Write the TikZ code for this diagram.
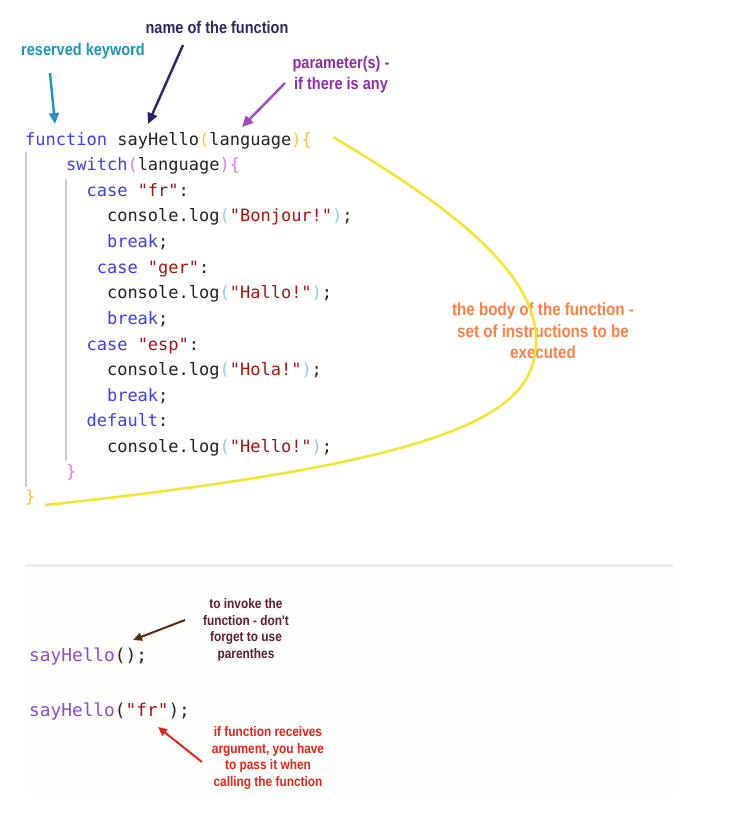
\documentclass[tikz,border=0pt]{standalone}
\usepackage{fontspec}
\newfontfamily\code{DejaVu Sans Mono}
\newfontfamily\lab[FakeStretch=0.86]{Liberation Sans}
\usetikzlibrary{arrows.meta}
\definecolor{kwc}{HTML}{3C3CF5}
\definecolor{strc}{HTML}{A31515}
\definecolor{codeblack}{HTML}{222222}
\definecolor{yparen}{HTML}{F5C542}
\definecolor{pparen}{HTML}{E07CE0}
\definecolor{bparen}{HTML}{8CCBF0}
\definecolor{callc}{HTML}{8A4FC7}
\definecolor{guidec}{HTML}{CCCCCC}
\definecolor{sepc}{HTML}{ECECEC}
\definecolor{tealc}{HTML}{1E96B8}
\definecolor{navyc}{HTML}{2B2565}
\definecolor{purpc}{HTML}{8B2FA8}
\definecolor{orangec}{HTML}{FF7F45}
\definecolor{maroonc}{HTML}{5A1E35}
\definecolor{brownc}{HTML}{5A2A12}
\definecolor{redc}{HTML}{E3261C}
\definecolor{curvec}{HTML}{F2E632}
\definecolor{lowbg}{HTML}{FEFEFD}
\newcommand{\kw}[1]{\textcolor{kwc}{#1}}
\newcommand{\strg}[1]{\textcolor{strc}{#1}}
\newcommand{\yp}[1]{\textcolor{yparen}{#1}}
\newcommand{\pp}[1]{\textcolor{pparen}{#1}}
\newcommand{\bp}[1]{\textcolor{bparen}{#1}}
\begin{document}
\begin{tikzpicture}[x=1pt,y=-1pt,
  codeline/.style={anchor=base west, inner sep=0pt, font=\code\fontsize{17}{20}\selectfont, text=codeblack},
  calline/.style={anchor=base west, inner sep=0pt, font=\code\fontsize{17.8}{20}\selectfont, text=codeblack},
  biglab/.style={inner sep=0pt, align=center, font=\lab\bfseries\fontsize{16.9}{21}\selectfont},
  bodylabst/.style={inner sep=0pt, align=center, font=\lab\bfseries\fontsize{17.6}{21.5}\selectfont},
  smalllab/.style={inner sep=0pt, align=center, font=\lab\bfseries\fontsize{13.8}{16.8}\selectfont},
  bigarr/.style={line width=2.4pt, -{Triangle[length=11pt,width=10pt]}},
  smallarr/.style={line width=2pt, -{Triangle[length=9pt,width=8pt]}},
  guide/.style={draw=guidec, line width=1.4pt}]
\useasboundingbox (0,0) rectangle (739,814);
% lower faint background and separator
\fill[lowbg] (25,567) rectangle (675,795);
\draw[sepc, line width=3pt] (25,565) -- (673,565);
% guides
\draw[guide] (26,152) -- (26,487);
\draw[guide] (66,179) -- (66,461);
% code lines
\def\cx#1{25+10.23*#1}
\node[codeline] (l1) at ({\cx{0}},145) {\kw{function} sayHello\yp{(}language\yp{)}\yp{\{}};
\node[codeline] (l2) at ({\cx{4}},170) {\kw{switch}\pp{(}language\pp{)}\pp{\{}};
\node[codeline] (l3) at ({\cx{6}},196) {\kw{case} \strg{"fr"}:};
\node[codeline] (l4) at ({\cx{8}},221) {console.log\bp{(}\strg{"Bonjour!"}\bp{)};};
\node[codeline] (l5) at ({\cx{8}},247) {\kw{break};};
\node[codeline] (l6) at ({\cx{7}},273) {\kw{case} \strg{"ger"}:};
\node[codeline] (l7) at ({\cx{8}},298) {console.log\bp{(}\strg{"Hallo!"}\bp{)};};
\node[codeline] (l8) at ({\cx{8}},324) {\kw{break};};
\node[codeline] (l9) at ({\cx{6}},350) {\kw{case} \strg{"esp"}:};
\node[codeline] (l10) at ({\cx{8}},375) {console.log\bp{(}\strg{"Hola!"}\bp{)};};
\node[codeline] (l11) at ({\cx{8}},401) {\kw{break};};
\node[codeline] (l12) at ({\cx{6}},426) {\kw{default}:};
\node[codeline] (l13) at ({\cx{8}},452) {console.log\bp{(}\strg{"Hello!"}\bp{)};};
\node[codeline] (l14) at ({\cx{4}},477) {\pp{\}}};
\node[codeline] (l15) at ({\cx{0}},502) {\yp{\}}};
% calls
\node[calline] (c1) at (29,661) {\textcolor{callc}{sayHello}();};
\node[calline] (c2) at (29,716) {\textcolor{callc}{sayHello}(\strg{"fr"});};
% labels
\node[biglab, text=tealc] (kwlab) at (83,51) {reserved keyword};
\node[biglab, text=navyc] (namelab) at (217,27) {name of the function};
\node[biglab, text=purpc] (paramlab) at (341,75) {parameter(s) -\\if there is any};
\node[bodylabst, text=orangec] (bodylab) at (543,331) {the body of the function -\\set of instructions to be\\executed};
\node[smalllab, text=maroonc] (invlab) at (246,630) {to invoke the\\function - don't\\forget to use\\parenthes};
\node[smalllab, text=redc] (arglab) at (268,758) {if function receives\\argument, you have\\to pass it when\\calling the function};
% arrows
\coordinate (kwA) at (50,73); \coordinate (kwB) at (55,124);
\coordinate (nmA) at (183,45); \coordinate (nmB) at (148,124);
\coordinate (pmA) at (285,83); \coordinate (pmB) at (242,127);
\coordinate (ivA) at (185,620); \coordinate (ivB) at (133,640);
\coordinate (agA) at (202,762); \coordinate (agB) at (158,727);
\draw[bigarr, tealc] (kwA) -- (kwB);
\draw[bigarr, navyc] (nmA) -- (nmB);
\draw[bigarr, purpc!85!white] (pmA) -- (pmB);
\draw[smallarr, brownc] (ivA) -- (ivB);
\draw[smallarr, redc] (agA) -- (agB);
% yellow curve
\coordinate (cvA) at (333,137); \coordinate (cvM) at (536,340); \coordinate (cvB) at (45,505);
\draw[curvec, line width=2.6pt] (cvA) .. controls (430,195) and (536,265) .. (cvM)
  .. controls (536,410) and (470,460) .. (cvB);
\end{tikzpicture}
\end{document}
